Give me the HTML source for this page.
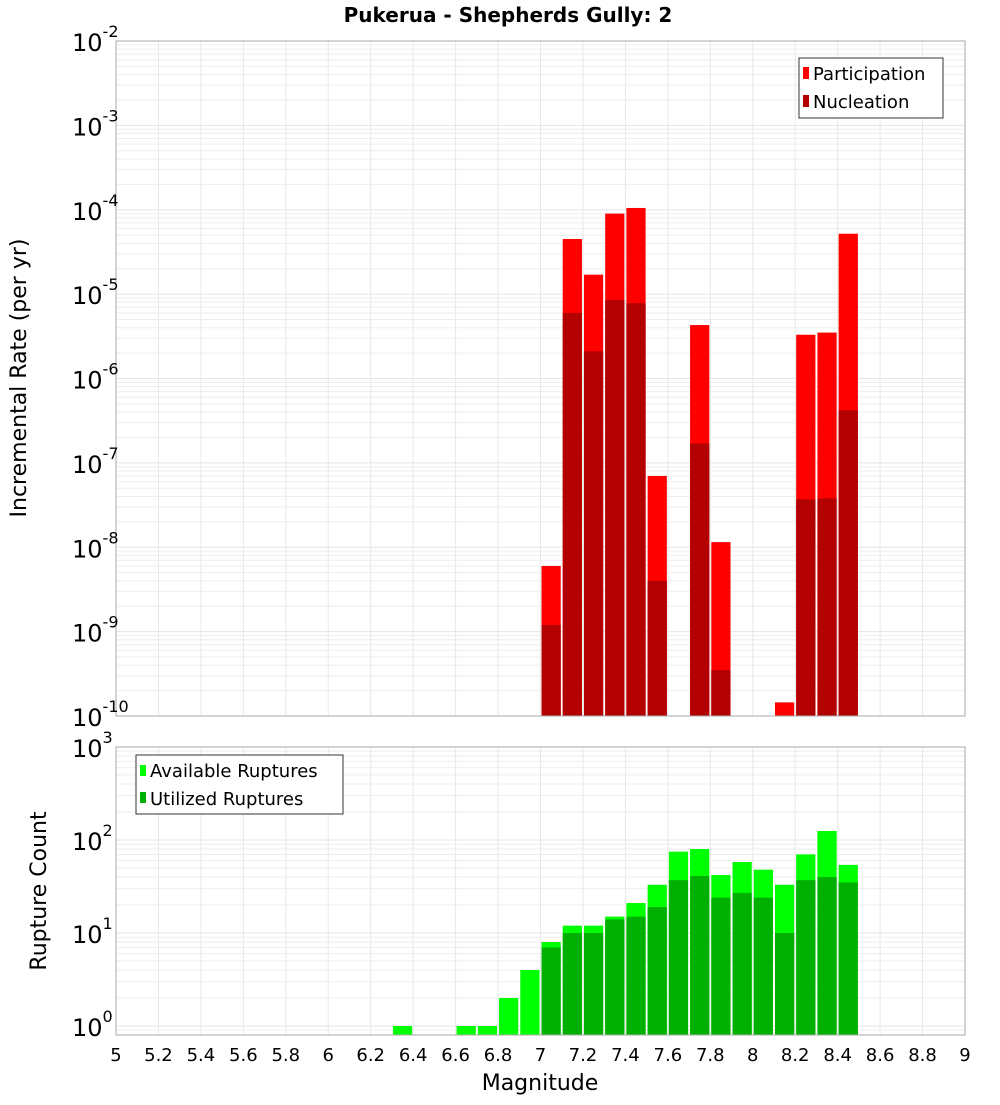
<!DOCTYPE html>
<html><head><meta charset="utf-8">
<style>body{margin:0;background:#fff;font-family:"Liberation Sans","DejaVu Sans",sans-serif;}</style>
</head><body>
<svg id="chart" width="1000" height="1100" xmlns="http://www.w3.org/2000/svg" font-family="DejaVu Sans, Liberation Sans, sans-serif"></svg>
<script>
const binCenters=[6.35,6.65,6.75,6.85,6.95,7.05,7.15,7.25,7.35,7.45,7.55,7.65,7.75,7.85,7.95,8.05,8.15,8.25,8.35,8.45];
const participation=[0,0,0,0,0,6e-9,4.5e-5,1.7e-5,9e-5,1.05e-4,7e-8,0,4.3e-6,1.15e-8,0,0,1.45e-10,3.3e-6,3.5e-6,5.2e-5];
const nucleation=[0,0,0,0,0,1.2e-9,6e-6,2.1e-6,8.5e-6,7.8e-6,4e-9,0,1.7e-7,3.5e-10,0,0,0,3.7e-8,3.8e-8,4.2e-7];
const available=[1,1,1,2,4,8,12,12,15,21,33,0,80,42,58,48,33,70,125,54];
const utilized=[0,0,0,0,0,7,10,10,14,15,19,0,41,24,27,24,10,37,40,35];
const availableB=[75];const utilizedB=[37]; // bin 7.65 handled below
available[11]=75;utilized[11]=37;
const xTicks=[5,5.2,5.4,5.6,5.8,6,6.2,6.4,6.6,6.8,7,7.2,7.4,7.6,7.8,8,8.2,8.4,8.6,8.8,9];
const topExps=[-2,-3,-4,-5,-6,-7,-8,-9,-10];
const botExps=[3,2,1,0];
const binWidth=0.1;

const svg=document.getElementById('chart');const NS='http://www.w3.org/2000/svg';
function el(tag,attrs,parent,text){const e=document.createElementNS(NS,tag);for(const k in attrs)e.setAttribute(k,attrs[k]);if(text!==undefined)e.textContent=text;(parent||svg).appendChild(e);return e;}
const X0=116,X1=965;
const xs=v=>X0+(v-5)/(9-5)*(X1-X0);
const T0=41,T1=716; const ty=v=>T0+(-2-Math.log10(v))/8*(T1-T0);
const B0=747,B1=1035; const by=v=>1026-Math.log10(v)*93;

function grid(yTop,yBot,yFn,lo,hi){
  const g=el('g',{});
  
  for(let e=lo;e<hi;e++)for(let m=1;m<10;m++){const y=yFn(m*Math.pow(10,e));if(y>=yTop&&y<=yBot)el('line',{x1:X0,x2:X1,y1:y,y2:y,stroke:m==1?'#e4e4e4':'#eeeeee','stroke-width':1},g);}
  xTicks.forEach(t=>{const x=xs(t);el('line',{x1:x,x2:x,y1:yTop,y2:yBot,stroke:'#e8e8e8'},g);});
}
grid(T0,T1,ty,-10,-1);grid(B0,B1,by,-1,3);

// top bars
const tb=el('g',{});
binCenters.forEach((c,i)=>{
  const xl=xs(c-binWidth/2)+1,w=xs(c+binWidth/2)-xs(c-binWidth/2)-2;
  if(participation[i]>0){const y=ty(participation[i]);const r=el('rect',{x:xl,y:y,width:w,height:T1-y,fill:'#ff0000'},tb);
    }
  if(nucleation[i]>0){const y=ty(nucleation[i]);const r=el('rect',{x:xl,y:y,width:w,height:T1-y,fill:'#b30000'},tb);
    }
});
const bb=el('g',{});
binCenters.forEach((c,i)=>{
  const xl=xs(c-binWidth/2)+1,w=xs(c+binWidth/2)-xs(c-binWidth/2)-2;
  if(available[i]>0){const y=by(available[i]);const r=el('rect',{x:xl,y:y,width:w,height:B1-y,fill:'#00ff00'},bb);
    }
  if(utilized[i]>0){const y=by(utilized[i]);const r=el('rect',{x:xl,y:y,width:w,height:B1-y,fill:'#00b000'},bb);
    }
});
// frames
el('rect',{x:X0,y:T0,width:X1-X0,height:T1-T0,fill:'none',stroke:'#aaaaaa'});
el('rect',{x:X0,y:B0,width:X1-X0,height:B1-B0,fill:'none',stroke:'#aaaaaa'});
// y tick labels
topExps.forEach(e=>{const y=ty(Math.pow(10,e));const t=el('text',{x:72,y:y+10,'font-size':24},svg);
  
  el('tspan',{},t,'10');el('tspan',{dy:-14,'font-size':16},t,String(e));});
botExps.forEach(e=>{const y=by(Math.pow(10,e));const t=el('text',{x:72,y:y+10,'font-size':24},svg);
  
  el('tspan',{},t,'10');el('tspan',{dy:-14,'font-size':16},t,String(e));});
xTicks.forEach(v=>{const t=el('text',{x:xs(v),y:1061,'font-size':18,'text-anchor':'middle'},svg,String(v));
  });
</script>
<svg style="position:absolute;left:0;top:0" width="1000" height="1100" font-family="DejaVu Sans, Liberation Sans, sans-serif">
<text x="508" y="22" font-size="20" font-weight="bold" text-anchor="middle">Pukerua - Shepherds Gully: 2</text>
<text transform="translate(26,378) rotate(-90)" font-size="22" text-anchor="middle">Incremental Rate (per yr)</text>
<text transform="translate(46,891) rotate(-90)" font-size="22" text-anchor="middle">Rupture Count</text>
<text x="540" y="1090" font-size="22" text-anchor="middle">Magnitude</text>
<g>
<rect x="799" y="58" width="144" height="60" fill="#fff" stroke="#333"/>
<rect x="803" y="67" width="6" height="12" fill="#ff0000"/>
<text x="813" y="80" font-size="18">Participation</text>
<rect x="803" y="95" width="6" height="12" fill="#b30000"/>
<text x="813" y="108" font-size="18">Nucleation</text>
</g>
<g>
<rect x="136" y="755" width="207" height="59" fill="#fff" stroke="#333"/>
<rect x="140" y="765" width="6" height="11" fill="#00ff00"/>
<text x="150" y="777" font-size="18">Available Ruptures</text>
<rect x="140" y="792" width="6" height="11" fill="#00b000"/>
<text x="150" y="805" font-size="18">Utilized Ruptures</text>
</g>
</svg>
</body></html>
